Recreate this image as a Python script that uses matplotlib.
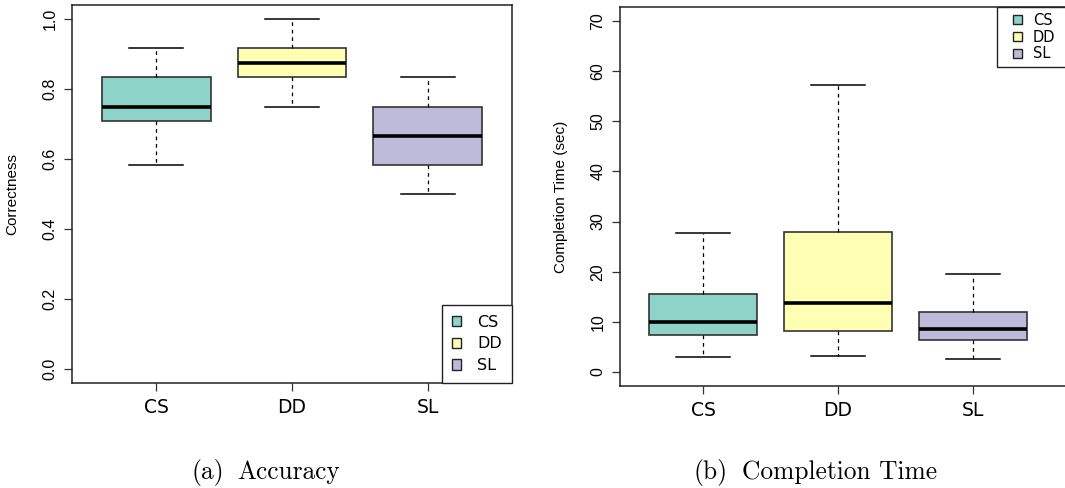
import matplotlib
matplotlib.use("Agg")
import matplotlib.pyplot as plt
from matplotlib.patches import Patch, Rectangle
from matplotlib.legend_handler import HandlerPatch

groups = ["CS", "DD", "SL"]
colors = ["#8DD3C7", "#FFFFB3", "#BEBADA"]

# five-number summaries: lower whisker, Q1, median, Q3, upper whisker
acc_low = [0.583, 0.750, 0.500]
acc_q1 = [0.708, 0.833, 0.583]
acc_med = [0.750, 0.875, 0.667]
acc_q3 = [0.833, 0.917, 0.750]
acc_high = [0.917, 1.000, 0.833]

time_low = [2.9, 3.2, 2.6]
time_q1 = [7.4, 8.2, 6.3]
time_med = [10.0, 13.7, 8.6]
time_q3 = [15.6, 27.9, 11.9]
time_high = [27.8, 57.2, 19.5]

W, H = 1065, 488
fig = plt.figure(figsize=(W / 100, H / 100), dpi=100)


def box_panel(rect, low, q1, med, q3, high, ylim, yticks, ylabel, xlim, label_x):
    ax = fig.add_axes(rect)
    stats = []
    for i in range(len(groups)):
        stats.append(dict(whislo=low[i], q1=q1[i], med=med[i], q3=q3[i], whishi=high[i], label=groups[i]))
    bp = ax.bxp(stats, positions=[1, 2, 3], widths=0.8, patch_artist=True, showfliers=False,
                boxprops=dict(edgecolor="#333333", linewidth=1.2),
                medianprops=dict(color="black", linewidth=2.6),
                whiskerprops=dict(color="black", linewidth=0.9, linestyle=(0, (3, 3))),
                capprops=dict(color="black", linewidth=1.1), capwidths=0.4)
    for patch, c in zip(bp["boxes"], colors):
        patch.set_facecolor(c)
    ax.set_xlim(*xlim)
    ax.set_ylim(*ylim)
    ax.set_yticks(yticks)
    ax.set_yticklabels([str(t) for t in yticks], rotation=90, va="center",
                       fontsize=11.5, family="Liberation Sans")
    ax.set_xticks([1, 2, 3])
    ax.set_xticklabels(groups, fontsize=13.5)
    ax.tick_params(axis="both", direction="out", length=5.5, width=0.9, color="#333333")
    ax.tick_params(axis="x", pad=5.5)
    ax.tick_params(axis="y", pad=5)
    for s in ax.spines.values():
        s.set_linewidth(1.1)
        s.set_color("#222222")
    ax.set_ylabel(ylabel, fontsize=11, family="Liberation Sans")
    ax.yaxis.set_label_coords(label_x, 0.5)
    return ax


def small_square(legend, orig_handle, xdescent, ydescent, width, height, fontsize):
    # square key pushed to the right end of the handle slot
    side = 0.62 * fontsize
    return Rectangle((width - side - xdescent, (height - side) / 2 - ydescent), side, side)


ax1 = box_panel([72 / W, 1 - 383 / H, 440 / W, 378 / H],
                acc_low, acc_q1, acc_med, acc_q3, acc_high,
                (-0.04, 1.04), [0.0, 0.2, 0.4, 0.6, 0.8, 1.0], "Correctness",
                (0.38, 3.62), (19 - 72) / 440)

ax2 = box_panel([620 / W, 1 - 386 / H, 450 / W, 379 / H],
                time_low, time_q1, time_med, time_q3, time_high,
                (-2.8, 72.8), [0, 10, 20, 30, 40, 50, 60, 70], "Completion Time (sec)",
                (0.385, 0.385 + 450 / 135), (568 - 620) / 450)

handles = [Patch(facecolor=c, edgecolor="#222222", linewidth=1) for c in colors]
leg1 = ax1.legend(handles, groups, loc="lower right", borderaxespad=0, fancybox=False,
                  edgecolor="#222222", framealpha=1, fontsize=11.5, handlelength=0.6,
                  handleheight=0.6, handletextpad=1.0, labelspacing=0.42,
                  borderpad=0.62)
leg1.get_frame().set_linewidth(1)

# right-hand legend runs past the edge of the figure
leg2 = ax2.legend(handles, groups, loc="upper left", mode="expand",
                  bbox_to_anchor=((997 - 620) / 450, 0, (1090 - 997) / 450, 1),
                  borderaxespad=0, fancybox=False,
                  edgecolor="#222222", framealpha=1, fontsize=10.5, handlelength=1.3,
                  handleheight=0.6, handletextpad=0.75, labelspacing=0.12,
                  borderpad=0.4, handler_map={Patch: HandlerPatch(patch_func=small_square)})
leg2.get_frame().set_linewidth(1)

# subfigure captions
fig.text(192 / W, 1 - 472 / H, "(a)", family="cmr10", fontsize=18.3, ha="left", va="center")
fig.text(237 / W, 1 - 472 / H, "Accuracy", family="cmr10", fontsize=18.3, ha="left", va="center")
fig.text(693 / W, 1 - 472 / H, "(b)", family="cmr10", fontsize=18.3, ha="left", va="center")
fig.text(742 / W, 1 - 472 / H, "Completion Time", family="cmr10", fontsize=18.3, ha="left", va="center")

fig.savefig("out.png", dpi=100)
